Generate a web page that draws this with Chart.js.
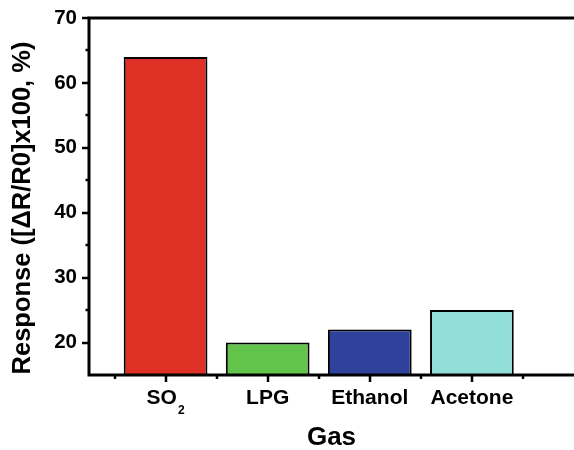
<!DOCTYPE html>
<html><head><meta charset="utf-8">
<script src="https://cdn.jsdelivr.net/npm/chart.js@4/dist/chart.umd.min.js"></script>
<style>html,body{margin:0;padding:0;background:#fff}#wrap{width:574px;height:450px;position:relative}</style>
</head><body><div id="wrap"><canvas id="c"></canvas></div>
<script>
// Gas sensor response data
const gases = ['SO₂', 'LPG', 'Ethanol', 'Acetone'];
const responses = [64, 20, 22, 25];
const barColors = ['#DE3024', '#62C44A', '#2E419B', '#92DFD9'];
const yTicks = [20, 30, 40, 50, 60, 70];
const yMinorTicks = [25, 35, 45, 55, 65];
const xPositions = [1, 2, 3, 4];
const xMinorTicks = [0.5, 1.5, 2.5, 3.5, 4.5];
const xTitle = 'Gas';
const yTitle = 'Response ([ΔR/R0]x100, %)';

const FONT = '"Liberation Sans", Arial, Helvetica, sans-serif';
const SUB = { '₀': '0', '₁': '1', '₂': '2', '₃': '3', '₄': '4', '₅': '5', '₆': '6', '₇': '7', '₈': '8', '₉': '9' };

// Draws a label, rendering unicode subscript digits as smaller lowered text
function drawLabel(ctx, text, cx, baseY, size) {
  const m = text.match(/^(.*?)([₀-₉]*)$/);
  const main = m[1];
  const sub = m[2].split('').map(ch => SUB[ch]).join('');
  const mainFont = `bold ${size}px ${FONT}`;
  const subFont = `bold ${Math.round(size * 0.58)}px ${FONT}`;
  ctx.font = mainFont;
  const wMain = ctx.measureText(main).width;
  ctx.font = subFont;
  const wSub = sub ? ctx.measureText(sub).width + 1 : 0;
  const x0 = cx - (wMain + wSub) / 2;
  ctx.textAlign = 'left';
  ctx.textBaseline = 'alphabetic';
  ctx.font = mainFont;
  ctx.fillText(main, x0, baseY);
  if (sub) {
    ctx.font = subFont;
    ctx.fillText(sub, x0 + wMain + 1, baseY + 10);
  }
}

// Origin-style axis frame, ticks, category labels and axis titles
const axesPlugin = {
  id: 'originAxes',
  afterDatasetsDraw(chart) {
    const { ctx, chartArea: a, scales: { x, y } } = chart;
    ctx.save();
    ctx.strokeStyle = '#000';
    ctx.fillStyle = '#000';
    ctx.lineCap = 'butt';
    ctx.lineWidth = 3;
    ctx.beginPath();
    ctx.moveTo(a.left, a.bottom + 1.5); ctx.lineTo(a.left, a.top - 1.5);
    ctx.moveTo(a.left - 1.5, a.top); ctx.lineTo(a.right, a.top);
    ctx.moveTo(a.left - 1.5, a.bottom); ctx.lineTo(a.right, a.bottom);
    ctx.stroke();

    ctx.lineWidth = 2.5;
    ctx.beginPath();
    yTicks.forEach(v => {
      const py = Math.round(y.getPixelForValue(v));
      ctx.moveTo(a.left - 7, py); ctx.lineTo(a.left, py);
    });
    yMinorTicks.forEach(v => {
      const py = Math.round(y.getPixelForValue(v));
      ctx.moveTo(a.left - 3.5, py); ctx.lineTo(a.left, py);
    });
    xPositions.forEach(v => {
      const px = Math.round(x.getPixelForValue(v));
      ctx.moveTo(px, a.bottom); ctx.lineTo(px, a.bottom + 7);
    });
    xMinorTicks.forEach(v => {
      const px = Math.round(x.getPixelForValue(v));
      ctx.moveTo(px, a.bottom); ctx.lineTo(px, a.bottom + 4);
    });
    ctx.stroke();

    // category labels
    xPositions.forEach((v, i) => {
      drawLabel(ctx, gases[i], x.getPixelForValue(v), a.bottom + 28.5, 21);
    });

    // axis titles
    ctx.textAlign = 'center';
    ctx.textBaseline = 'alphabetic';
    ctx.font = `bold 26px ${FONT}`;
    ctx.fillText(xTitle, (a.left + a.right) / 2, a.bottom + 70);

    ctx.save();
    ctx.translate(30, (a.top + a.bottom) / 2 + 11.5);
    ctx.rotate(-Math.PI / 2);
    ctx.font = `bold 25.5px ${FONT}`;
    ctx.fillText(yTitle, 0, 0);
    ctx.restore();

    ctx.restore();
  }
};

new Chart(document.getElementById('c'), {
  type: 'bar',
  data: {
    datasets: [{
      data: responses.map((v, i) => ({ x: xPositions[i], y: v })),
      backgroundColor: barColors,
      borderColor: '#000',
      borderWidth: 2,
      borderSkipped: false,
      categoryPercentage: 1,
      barPercentage: 0.82
    }]
  },
  options: {
    responsive: true,
    maintainAspectRatio: false,
    devicePixelRatio: 1,
    animation: false,
    layout: { padding: { top: 18, right: 0, left: 0, bottom: 0 } },
    plugins: { legend: { display: false }, tooltip: { enabled: false } },
    scales: {
      x: {
        type: 'linear',
        min: 0.25,
        max: 5,
        offset: false,
        grid: { display: false, drawTicks: false },
        border: { display: false },
        afterBuildTicks: s => { s.ticks = xPositions.map(v => ({ value: v })); },
        afterFit: s => { s.height = 75; s.paddingLeft = 0; s.paddingRight = 0; },
        ticks: { display: false }
      },
      y: {
        min: 15,
        max: 70,
        grid: { display: false, drawTicks: false },
        border: { display: false },
        afterBuildTicks: s => { s.ticks = yTicks.map(v => ({ value: v })); },
        afterFit: s => { s.width = 89; s.paddingTop = 0; s.paddingBottom = 0; },
        ticks: {
          padding: 12,
          color: '#000',
          font: { family: FONT, size: 20.5, weight: 'bold' }
        }
      }
    }
  },
  plugins: [axesPlugin]
});
</script>
</body></html>
